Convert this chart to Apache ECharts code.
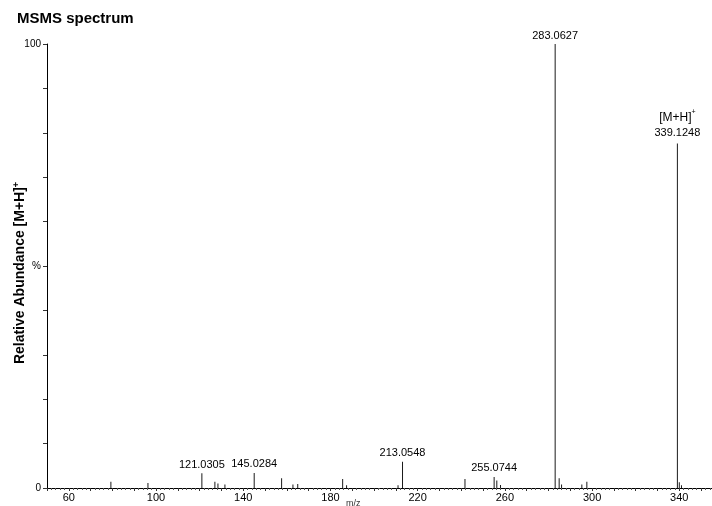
<!DOCTYPE html>
<html>
<head>
<meta charset="utf-8">
<script src="https://cdn.jsdelivr.net/npm/echarts@6/dist/echarts.min.js"></script>
<style>html,body{margin:0;padding:0;background:#fff}#c{width:712px;height:506px}</style>
</head>
<body>
<div id="c"></div>
<script>
// m/z values and relative abundance (%)
var mzValues = [79.3, 96.3, 121.0305, 127.0, 128.4, 131.6, 145.0284, 157.6, 162.8, 165.0, 185.6, 187.4, 211.0, 213.0548, 241.7, 255.0744, 256.3, 258.0, 283.0627, 284.9, 286.0, 295.3, 297.6, 339.1248, 340.0, 341.0];
var abundance = [1.4, 1.1, 3.3, 1.4, 1.0, 0.8, 3.4, 2.2, 0.8, 0.9, 2.0, 0.6, 0.6, 5.9, 2.0, 2.5, 1.7, 0.7, 100, 2.2, 0.8, 0.8, 1.4, 77.6, 1.3, 0.6];
var labelledPeaks = ['121.0305', '145.0284', '213.0548', '255.0744', '283.0627', '339.1248'];
var xTickLabels = [60, 100, 140, 180, 220, 260, 300, 340];
var yTickLabels = {0: '0', 50: '%', 100: '100'};

var FONT = 'Liberation Sans, Arial, sans-serif';
var data = mzValues.map(function (mz, i) {
  var key = mz.toFixed(4);
  var item = { value: [mz, abundance[i]] };
  if (labelledPeaks.indexOf(key) >= 0) {
    if (key === '339.1248') {
      item.label = { show: true, formatter: '{ion|[M+H]}{sup|+}\n{num|' + key + '}' };
    } else {
      item.label = { show: true, formatter: key };
    }
  }
  return item;
});

var chart = echarts.init(document.getElementById('c'), null, { renderer: 'canvas' });
chart.setOption({
  animation: false,
  backgroundColor: '#fff',
  title: {
    text: 'MSMS spectrum', left: 17, top: 11, padding: 0,
    textStyle: { fontFamily: FONT, fontSize: 15, fontWeight: 'bold', color: '#000' }
  },
  grid: { left: 47, right: 0, top: 44, bottom: 18, containLabel: false },
  xAxis: {
    type: 'value', min: 50, max: 355, interval: 10,
    axisLine: { lineStyle: { color: '#000', width: 1 } },
    axisTick: { show: true, length: 3, lineStyle: { color: '#333' } },
    minorTick: { show: true, splitNumber: 5, length: 2, lineStyle: { color: '#555' } },
    splitLine: { show: false },
    axisLabel: {
      margin: 4, fontSize: 11, color: '#000', fontFamily: FONT,
      showMinLabel: false, showMaxLabel: false,
      formatter: function (v) { return xTickLabels.indexOf(Math.round(v)) >= 0 ? String(Math.round(v)) : ''; }
    }
  },
  yAxis: {
    type: 'value', min: 0, max: 100, interval: 10,
    axisLine: { show: true, lineStyle: { color: '#000', width: 1 } },
    axisTick: { show: true, length: 4, lineStyle: { color: '#333' } },
    splitLine: { show: false },
    axisLabel: {
      margin: 6, fontSize: 10, color: '#000', fontFamily: FONT,
      formatter: function (v) { return yTickLabels[Math.round(v)] || ''; }
    }
  },
  graphic: [
    {
      type: 'text', x: 12, y: 273, rotation: Math.PI / 2,
      style: {
        text: '{t|Relative Abundance [M+H]}{s|+}',
        rich: {
          t: { fontSize: 14, fontWeight: 'bold', fontFamily: FONT, fill: '#000' },
          s: { fontSize: 9, fontWeight: 'bold', fontFamily: FONT, fill: '#000', verticalAlign: 'top', padding: [0, 0, 7, 0] }
        },
        align: 'center', verticalAlign: 'top'
      }
    },
    {
      type: 'text', x: 346, y: 499,
      style: { text: 'm/z', fontSize: 9, fontFamily: FONT, fill: '#333' }
    }
  ],
  series: [{
    type: 'bar',
    barWidth: 1,
    itemStyle: { color: '#1a1a1a' },
    data: data,
    label: {
      show: false, position: 'top', distance: 3,
      fontSize: 11, color: '#000', fontFamily: FONT,
      rich: {
        ion: { fontSize: 12, color: '#000', fontFamily: FONT, lineHeight: 18 },
        sup: { fontSize: 7, color: '#000', fontFamily: FONT, verticalAlign: 'top', lineHeight: 18, padding: [0, 0, 6, 0] },
        num: { fontSize: 11, color: '#000', fontFamily: FONT, lineHeight: 14 }
      }
    }
  }]
});
</script>
</body>
</html>
